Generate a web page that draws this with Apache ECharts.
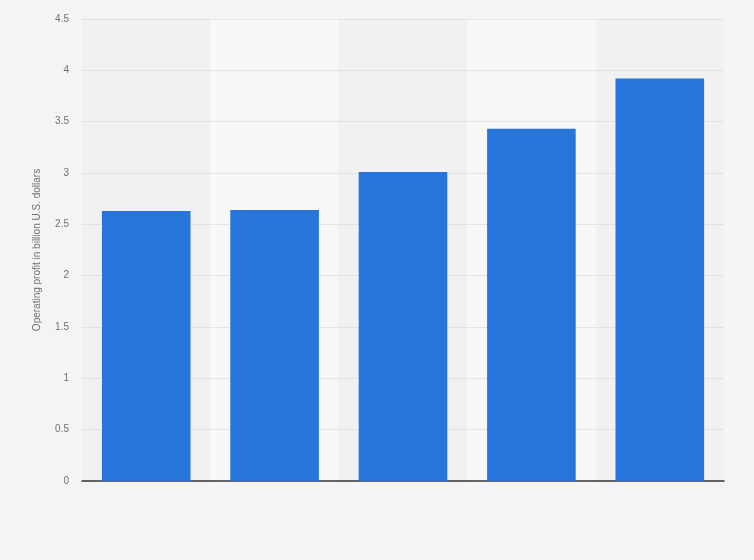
<!DOCTYPE html>
<html>
<head>
<meta charset="utf-8">
<script src="https://cdn.jsdelivr.net/npm/echarts@6/dist/echarts.min.js"></script>
<style>
html,body{margin:0;padding:0;background:#f4f4f4;}
#chart{width:754px;height:560px;}
</style>
</head>
<body>
<div id="chart"></div>
<script>
var categories = ['1', '2', '3', '4', '5'];
var operatingProfit = [2.63, 2.64, 3.01, 3.43, 3.92];
var yTicks = { min: 0, max: 4.5, interval: 0.5 };
var yAxisTitle = 'Operating profit in billion U.S. dollars';

var chart = echarts.init(document.getElementById('chart'));
chart.setOption({
  backgroundColor: '#f4f4f4',
  animation: false,
  grid: { left: 82, right: 30, top: 19, bottom: 79 },
  xAxis: {
    type: 'category',
    data: categories,
    z: 0,
    axisLine: { show: true, lineStyle: { color: '#333', width: 1.5 } },
    axisTick: { show: false },
    axisLabel: { show: false },
    splitLine: { show: false },
    splitArea: { show: true, areaStyle: { color: ['#f1f1f1', '#f8f8f8'] } }
  },
  yAxis: {
    type: 'value',
    z: 1,
    min: yTicks.min, max: yTicks.max, interval: yTicks.interval,
    name: yAxisTitle,
    nameLocation: 'middle',
    nameGap: 40,
    nameTextStyle: { color: '#707070', fontSize: 10, fontFamily: 'Arial, Liberation Sans, sans-serif' },
    axisLine: { show: false },
    axisTick: { show: false },
    axisLabel: { color: '#707070', fontSize: 10, margin: 13, fontFamily: 'Arial, Liberation Sans, sans-serif' },
    splitLine: { show: true, lineStyle: { color: ['rgba(0,0,0,0)', '#d2d2d2', '#d2d2d2', '#d2d2d2', '#d2d2d2', '#d2d2d2', '#d2d2d2', '#d2d2d2', '#d2d2d2', '#d2d2d2'], type: [1, 1], width: 1 } }
  },
  series: [{
    type: 'bar',
    z: 2,
    data: operatingProfit,
    barWidth: '69%',
    itemStyle: { color: '#2775db' }
  }]
});
</script>
</body>
</html>
